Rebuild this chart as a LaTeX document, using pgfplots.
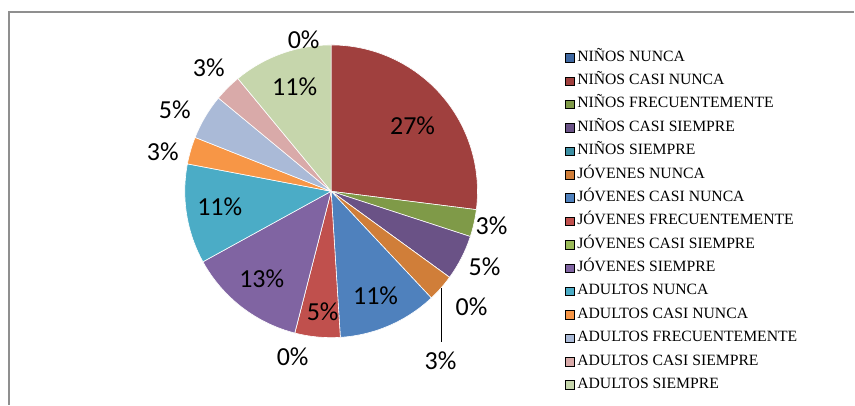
\documentclass[border=0pt]{standalone}
\usepackage{pgfplots}
\usepackage{pgfplotstable}
\pgfplotsset{compat=1.18}
\usepackage{fontspec}
\setmainfont{Liberation Serif}
\newfontfamily\lblfont{Carlito}

\definecolor{cA}{HTML}{3F68A1}
\definecolor{cB}{HTML}{A0403E}
\definecolor{cC}{HTML}{7F9A48}
\definecolor{cD}{HTML}{6A5286}
\definecolor{cE}{HTML}{3C8FA3}
\definecolor{cF}{HTML}{D07E39}
\definecolor{cG}{HTML}{4F81BD}
\definecolor{cH}{HTML}{C0504D}
\definecolor{cI}{HTML}{9BBB59}
\definecolor{cJ}{HTML}{8064A2}
\definecolor{cK}{HTML}{4BACC6}
\definecolor{cL}{HTML}{F79646}
\definecolor{cM}{HTML}{AABAD7}
\definecolor{cN}{HTML}{D9AAA9}
\definecolor{cO}{HTML}{C6D6AC}
\definecolor{framegray}{HTML}{8F8F8F}

% value (percent), colour, label position (pixels from top left)
\pgfplotstableread{
val col lx ly
0  cA 304 40
27 cB 413 126
3  cC 492 226
5  cD 485 267
0  cE 472 307
3  cF 441 361
11 cG 376 296
5  cH 323 312
0  cI 293 357
13 cJ 262 279
11 cK 220 207
3  cL 163 152
5  cM 175 110
3  cN 209 68
11 cO 295 87
}\piedata

\begin{document}
\begin{tikzpicture}
\pgfplotstablegetrowsof{\piedata}
\pgfmathtruncatemacro\lastrow{\pgfplotsretval-1}
\begin{axis}[
    width=855pt, height=405pt, scale only axis,
    xmin=0, xmax=855, ymin=0, ymax=405,
    hide axis, clip=false,
    legend image code/.code={\fill[#1] (0pt,-4.25pt) rectangle (8.5pt,4.25pt);},
    legend cell align=left,
    legend style={at={(axis cs:566,354.8)}, anchor=north west,
        draw=none, fill=none, inner sep=0pt, outer sep=0pt,
        row sep=8.4pt, column sep=3pt,
        font=\fontsize{15.7}{18}\selectfont,
        nodes={inner sep=0pt, text height=11pt, text depth=4pt}},
]
\path (axis cs:0,0) rectangle (axis cs:855,405);
\draw[line width=1.8pt, framegray] (axis cs:9,0) -- (axis cs:9,393) -- (axis cs:855,393);

\def\curang{90}
\pgfplotsforeachungrouped \i in {0,...,\lastrow}{%
  \pgfplotstablegetelem{\i}{val}\of\piedata \let\sliceval\pgfplotsretval
  \pgfplotstablegetelem{\i}{col}\of\piedata \let\slicecol\pgfplotsretval
  \pgfmathsetmacro\nextang{\curang-3.6*\sliceval}
  \edef\doslice{\noexpand\fill[fill=\slicecol, draw=white, line width=0.6pt]
    (axis cs:331.5,213.5) -- ++(\curang:146.5pt)
    arc[start angle=\curang, end angle=\nextang, radius=146.5pt] -- cycle;}%
  \doslice
  \global\let\curang\nextang
}
\pgfplotsforeachungrouped \i in {0,...,\lastrow}{%
  \pgfplotstablegetelem{\i}{val}\of\piedata \let\sliceval\pgfplotsretval
  \pgfplotstablegetelem{\i}{lx}\of\piedata \let\labx\pgfplotsretval
  \pgfplotstablegetelem{\i}{ly}\of\piedata \pgfmathsetmacro\laby{405-\pgfplotsretval}
  \edef\dolabel{\noexpand\node[font=\noexpand\lblfont\noexpand\fontsize{26}{30}\noexpand\selectfont, inner sep=0pt]
    at (axis cs:\labx,\laby) {\sliceval\noexpand\%};}%
  \dolabel
}
% leader line of JÓVENES NUNCA
\draw[black, line width=0.8pt] (axis cs:441.5,117) -- (axis cs:441.5,62.5);

\addlegendimage{fill=cA}\addlegendentry{NIÑOS NUNCA}
\addlegendimage{fill=cB}\addlegendentry{NIÑOS CASI NUNCA}
\addlegendimage{fill=cC}\addlegendentry{NIÑOS FRECUENTEMENTE}
\addlegendimage{fill=cD}\addlegendentry{NIÑOS CASI SIEMPRE}
\addlegendimage{fill=cE}\addlegendentry{NIÑOS SIEMPRE}
\addlegendimage{fill=cF}\addlegendentry{JÓVENES NUNCA}
\addlegendimage{fill=cG}\addlegendentry{JÓVENES CASI NUNCA}
\addlegendimage{fill=cH}\addlegendentry{JÓVENES FRECUENTEMENTE}
\addlegendimage{fill=cI}\addlegendentry{JÓVENES CASI SIEMPRE}
\addlegendimage{fill=cJ}\addlegendentry{JÓVENES SIEMPRE}
\addlegendimage{fill=cK}\addlegendentry{ADULTOS NUNCA}
\addlegendimage{fill=cL}\addlegendentry{ADULTOS CASI NUNCA}
\addlegendimage{fill=cM}\addlegendentry{ADULTOS FRECUENTEMENTE}
\addlegendimage{fill=cN}\addlegendentry{ADULTOS CASI SIEMPRE}
\addlegendimage{fill=cO}\addlegendentry{ADULTOS SIEMPRE}
\end{axis}
\end{tikzpicture}
\end{document}
